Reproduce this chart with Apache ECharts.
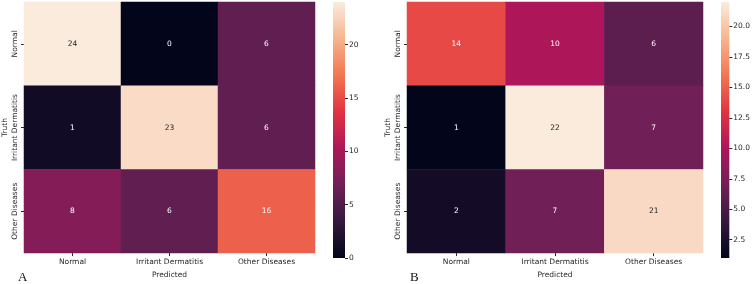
<!DOCTYPE html>
<html>
<head>
<meta charset="utf-8">
<script src="https://cdn.jsdelivr.net/npm/echarts@6/dist/echarts.min.js"></script>
<style>
  html, body { margin: 0; padding: 0; background: #fff; }
  #chart { width: 753px; height: 284px; }
</style>
</head>
<body>
<div id="chart"></div>
<script>
const classes = ['Normal', 'Irritant Dermatitis', 'Other Diseases'];
// rows = truth, columns = predicted
const matrixA = [
  [24, 0, 6],
  [1, 23, 6],
  [8, 6, 16]
];
const matrixB = [
  [14, 10, 6],
  [1, 22, 7],
  [2, 7, 21]
];
const rangeA = [0, 24];
const rangeB = [1, 22];
const ticksA = [0, 5, 10, 15, 20];
const ticksB = [2.5, 5, 7.5, 10, 12.5, 15, 17.5, 20];

// seaborn "rocket"
const rocket = ['#03051a', '#35193e', '#701f57', '#ad1759', '#e13342', '#f37651', '#f6b48f', '#faebdd'];

const font = 'DejaVu Sans';
const txt = '#262626';

function cells(m, range) {
  const out = [];
  m.forEach((row, r) => row.forEach((v, c) => {
    const light = (v - range[0]) / (range[1] - range[0]) > 0.85;
    out.push({ value: [c, r, v], label: { color: light ? txt : '#ffffff' } });
  }));
  return out;
}

function gradient() {
  return new echarts.graphic.LinearGradient(0, 1, 0, 0,
    rocket.map((c, i) => ({ offset: i / (rocket.length - 1), color: c })));
}

const grids = [
  { left: 20, top: 2, width: 295, height: 255 },
  { left: 407, top: 2, width: 296, height: 255 },
  { left: 333, top: 2, width: 12, height: 256 },
  { left: 721, top: 2, width: 12, height: 256 }
];

function catX(i) {
  return {
    type: 'category', gridIndex: i, data: classes, position: 'bottom',
    name: 'Predicted', nameLocation: 'middle', nameGap: 17,
    nameTextStyle: { fontFamily: font, fontSize: 7.5, color: txt },
    axisLine: { show: false },
    axisTick: { show: true, alignWithLabel: true, length: 3, lineStyle: { color: txt } },
    axisLabel: { fontFamily: font, fontSize: 7.5, color: txt, margin: 5, interval: 0 },
    splitLine: { show: false }
  };
}
function catY(i) {
  return {
    type: 'category', gridIndex: i, data: classes, inverse: true,
    name: 'Truth', nameLocation: 'middle', nameGap: 15, nameRotate: 90,
    nameTextStyle: { fontFamily: font, fontSize: 7.5, color: txt },
    axisLine: { show: false },
    axisTick: { show: true, alignWithLabel: true, length: 3, lineStyle: { color: txt } },
    axisLabel: { fontFamily: font, fontSize: 7.5, color: txt, rotate: 90, margin: 5, interval: 0 },
    splitLine: { show: false }
  };
}
function barX(i) {
  return { type: 'category', gridIndex: i, data: [''], show: false };
}
function barY(i, range, ticks, fmt) {
  return {
    type: 'value', gridIndex: i, position: 'right', min: range[0], max: range[1],
    axisLine: { show: false },
    axisTick: { show: true, length: 3, lineStyle: { color: txt }, customValues: ticks },
    axisLabel: { fontFamily: font, fontSize: 7.5, color: txt, margin: 4, formatter: fmt, customValues: ticks },
    splitLine: { show: false }
  };
}

function colorbar(xi, range) {
  return {
    type: 'custom', xAxisIndex: xi, yAxisIndex: xi, silent: true,
    data: [[0, range[0], range[1]]],
    renderItem: function (params, api) {
      const lo = api.coord([0, api.value(1)]);
      const hi = api.coord([0, api.value(2)]);
      const w = api.size([1, 0])[0];
      return {
        type: 'rect',
        shape: { x: lo[0] - w / 2, y: hi[1], width: w, height: lo[1] - hi[1] },
        style: { fill: gradient() }
      };
    }
  };
}

function heat(i, m, range) {
  return {
    type: 'heatmap', xAxisIndex: i, yAxisIndex: i,
    data: cells(m, range),
    label: { show: true, fontFamily: font, fontSize: 7.5 },
    itemStyle: { borderWidth: 0 },
    emphasis: { disabled: true }
  };
}

const chart = echarts.init(document.getElementById('chart'));
chart.setOption({
  animation: false,
  backgroundColor: '#ffffff',
  grid: grids,
  xAxis: [catX(0), catX(1), barX(2), barX(3)],
  yAxis: [
    catY(0), catY(1),
    barY(2, rangeA, ticksA, v => String(v)),
    barY(3, rangeB, ticksB, v => v.toFixed(1))
  ],
  visualMap: [
    { show: false, type: 'continuous', seriesIndex: 0, dimension: 2, min: rangeA[0], max: rangeA[1], inRange: { color: rocket } },
    { show: false, type: 'continuous', seriesIndex: 1, dimension: 2, min: rangeB[0], max: rangeB[1], inRange: { color: rocket } }
  ],
  series: [
    heat(0, matrixA, rangeA),
    heat(1, matrixB, rangeB),
    colorbar(2, rangeA),
    colorbar(3, rangeB)
  ],
  graphic: [
    { type: 'text', left: 18, top: 271, style: { text: 'A', font: '13px "Liberation Serif", serif', fill: '#111' } },
    { type: 'text', left: 410, top: 271, style: { text: 'B', font: '13px "Liberation Serif", serif', fill: '#111' } }
  ]
});
</script>
</body>
</html>
